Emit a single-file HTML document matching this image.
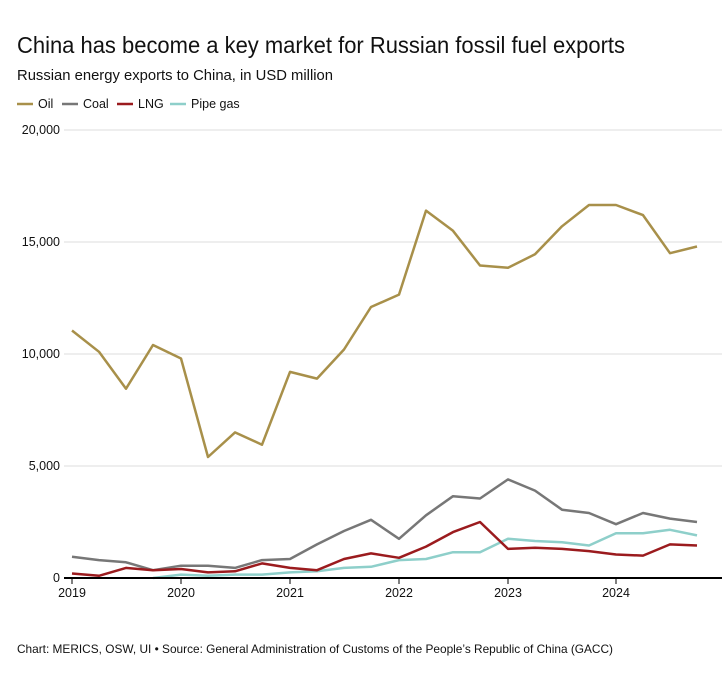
<!DOCTYPE html>
<html><head><meta charset="utf-8"><style>
body{margin:0;background:#fff;font-family:"Liberation Sans",sans-serif;}
</style></head><body>
<svg width="723" height="675" xmlns="http://www.w3.org/2000/svg" font-family="Liberation Sans, sans-serif">
<text x="17" y="53" font-size="23" fill="#111" textLength="608" lengthAdjust="spacingAndGlyphs">China has become a key market for Russian fossil fuel exports</text>
<text x="17" y="80" font-size="14.5" fill="#111" textLength="316" lengthAdjust="spacingAndGlyphs">Russian energy exports to China, in USD million</text>
<g font-size="12.5" fill="#111">
<line x1="17" y1="104" x2="33" y2="104" stroke="#a8904a" stroke-width="2.5"/><text x="38" y="108">Oil</text>
<line x1="62" y1="104" x2="78" y2="104" stroke="#777" stroke-width="2.5"/><text x="83" y="108">Coal</text>
<line x1="117" y1="104" x2="133" y2="104" stroke="#9b1b1e" stroke-width="2.5"/><text x="138" y="108">LNG</text>
<line x1="170" y1="104" x2="186" y2="104" stroke="#8ecfca" stroke-width="2.5"/><text x="191" y="108">Pipe gas</text>
</g>
<g stroke="#ddd" stroke-width="1">
<line x1="64" y1="130" x2="722" y2="130"/><line x1="64" y1="242" x2="722" y2="242"/>
<line x1="64" y1="354" x2="722" y2="354"/><line x1="64" y1="466" x2="722" y2="466"/>
</g>
<g font-size="12.5" fill="#111" text-anchor="end">
<text x="60" y="134">20,000</text><text x="60" y="246">15,000</text><text x="60" y="358">10,000</text><text x="60" y="470">5,000</text><text x="60" y="582">0</text>
</g>
<g fill="none" stroke-width="2.5" stroke-linejoin="round">
<polyline stroke="#8ecfca" points="153,578 181,574.6 208,575.8 235,574.6 262,574.6 290,572.4 317,571.3 344,567.9 371,566.8 399,560.1 426,559 453,552.2 480,552.2 508,538.8 535,541 562,542.2 589,545.5 616,533.2 643,533.2 670,529.8 697,535.4"/>
<polyline stroke="#777" points="72,556.7 99,560.1 126,562.3 153,570.2 181,565.7 208,565.7 235,567.9 262,560.1 290,559 317,544.4 344,531 371,519.8 399,538.8 426,515.3 453,496.2 480,498.5 508,479.4 535,490.6 562,509.7 589,513 616,524.2 643,513 670,518.6 697,522"/>
<polyline stroke="#9b1b1e" points="72,573.5 99,575.8 126,567.9 153,570.2 181,569 208,572.4 235,571.3 262,563.4 290,567.9 317,570.2 344,559 371,553.4 399,557.8 426,546.6 453,532.1 480,522 508,548.9 535,547.8 562,548.9 589,551.1 616,554.5 643,555.6 670,544.4 697,545.5"/>
<polyline stroke="#a8904a" points="72,330.5 99,351.8 126,388.7 153,345 181,358.5 208,457 235,432.4 262,444.7 290,371.9 317,378.6 344,349.5 371,307 399,294.6 426,210.6 453,230.8 480,265.5 508,267.8 535,254.3 562,226.3 589,205 616,205 643,215.1 670,253.2 697,246.5"/>
</g>
<line x1="64" y1="578" x2="722" y2="578" stroke="#000" stroke-width="2"/>
<g stroke="#000" stroke-width="1">
<line x1="72" y1="578" x2="72" y2="584"/><line x1="181" y1="578" x2="181" y2="584"/><line x1="290" y1="578" x2="290" y2="584"/><line x1="399" y1="578" x2="399" y2="584"/><line x1="508" y1="578" x2="508" y2="584"/><line x1="616" y1="578" x2="616" y2="584"/>
</g>
<g font-size="12.5" fill="#111" text-anchor="middle">
<text x="72" y="597">2019</text><text x="181" y="597">2020</text><text x="290" y="597">2021</text><text x="399" y="597">2022</text><text x="508" y="597">2023</text><text x="616" y="597">2024</text>
</g>
<text x="17" y="653" font-size="12" fill="#111" textLength="596" lengthAdjust="spacingAndGlyphs">Chart: MERICS, OSW, UI • Source: General Administration of Customs of the People’s Republic of China (GACC)</text>
</svg>
</body></html>
